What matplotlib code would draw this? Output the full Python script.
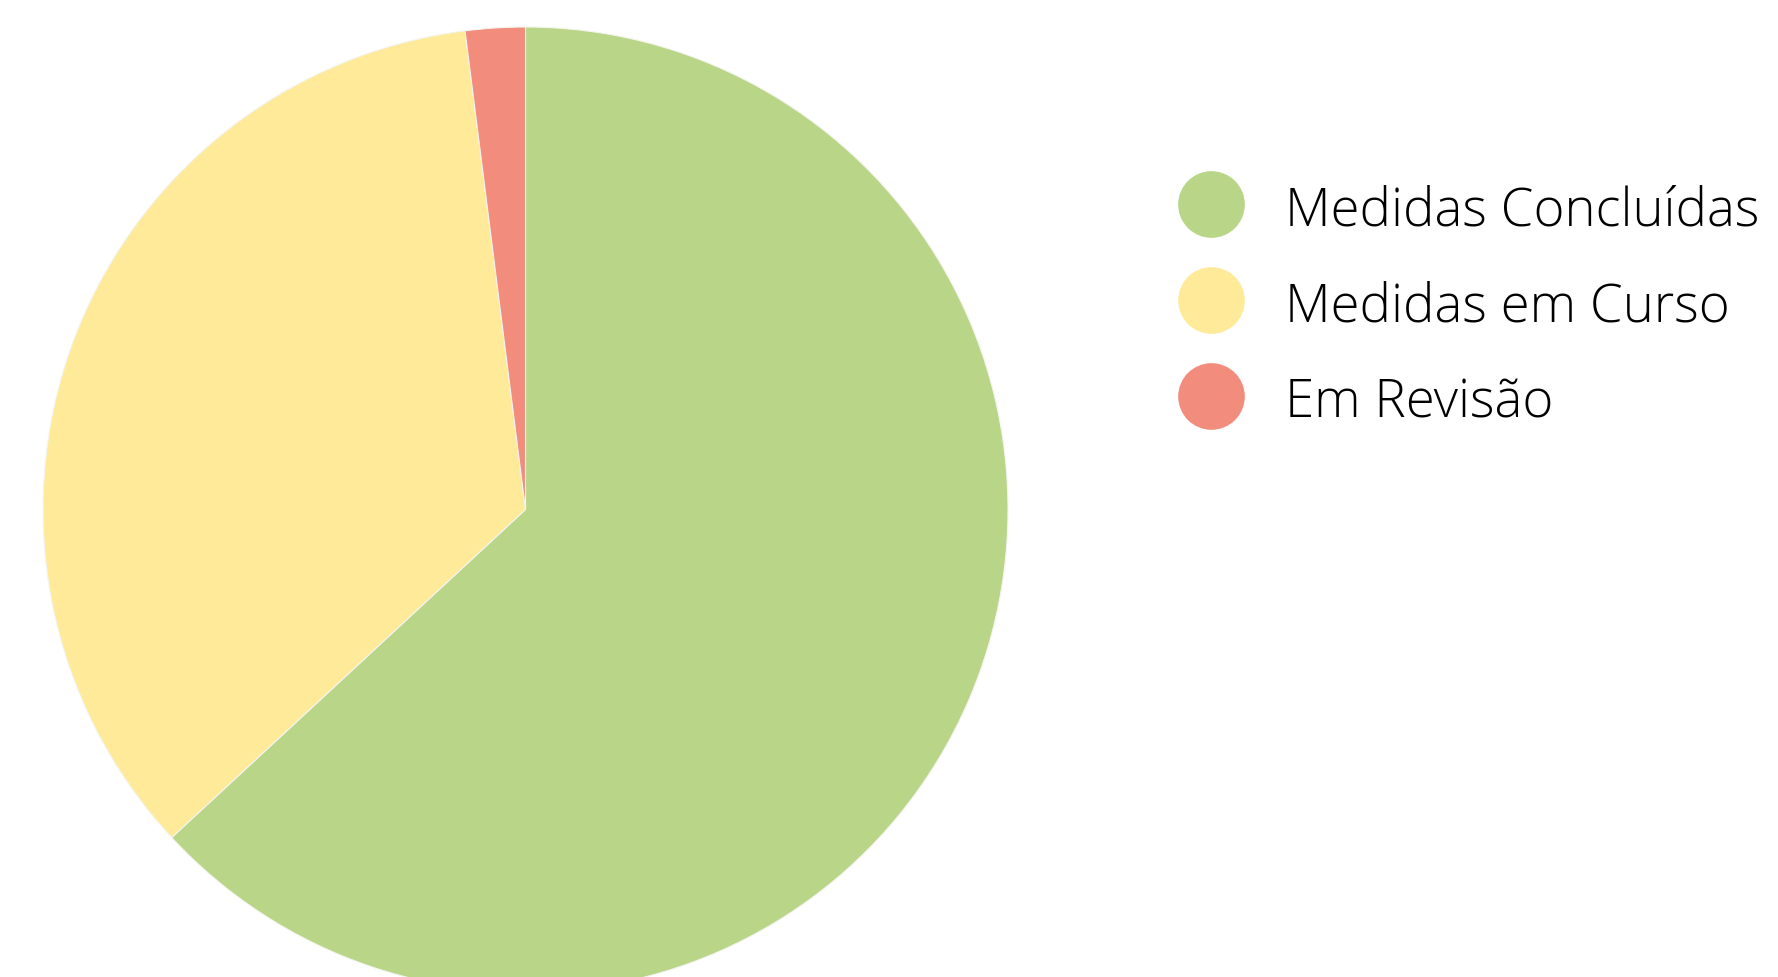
import matplotlib
matplotlib.use("Agg")
import matplotlib.pyplot as plt

labels = ['Medidas Concluídas', 'Medidas em Curso', 'Em Revisão']
values = [63.1, 34.9, 2.0]
colors = ['#B9D587', '#FEEA99', '#F28D7E']

W, H = 1778, 978
fig = plt.figure(figsize=(W / 100, H / 100), dpi=100)
ax = fig.add_axes([43 / W, -15 / H, 965 / W, 965 / H])
ax.pie(values, colors=colors, startangle=90, counterclock=False,
       wedgeprops=dict(linewidth=0.8, edgecolor='#f4f4f0'))
ax.set_xlim(-1, 1)
ax.set_ylim(-1, 1)
ax.set_aspect('equal')
ax.axis('off')

# legend drawn by hand so the spacing matches
for i, (lab, c) in enumerate(zip(labels, colors)):
    y = 1 - (205 + i * 96) / H
    ax.plot([1211 / W], [y], marker='o', markersize=48, color=c,
            markeredgecolor='none', transform=fig.transFigure, clip_on=False)
    fig.text(1285 / W, y, lab, va='center_baseline', ha='left', fontsize=38,
             family='Open Sans', weight='light', color='black')

fig.savefig('out.png', dpi=100)
